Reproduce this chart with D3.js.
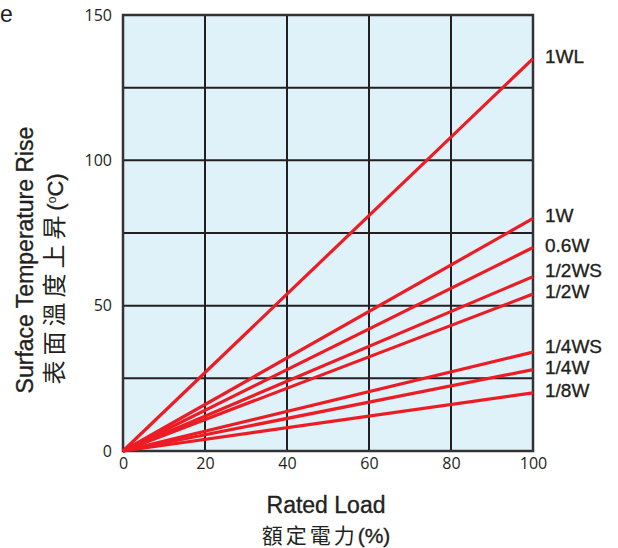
<!DOCTYPE html>
<html>
<head>
<meta charset="utf-8">
<script src="https://cdn.jsdelivr.net/npm/d3@7"></script>
<style>
  body { margin: 0; background: #fff; }
  text { font-family: "Liberation Sans", Arial, sans-serif; fill: #231f20; }
  .heavy { stroke: #231f20; stroke-width: 0.35px; }
</style>
</head>
<body>
<svg id="chart" width="618" height="548"></svg>
<script>
// series names and temperature rise at 0% / 100% rated load
var seriesNames = ["1WL", "1W", "0.6W", "1/2WS", "1/2W", "1/4WS", "1/4W", "1/8W"];
var loadPoints = [0, 100];
var riseAt100 = [135, 80, 70, 60, 54, 34, 28, 20];
var xTicks = [0, 20, 40, 60, 80, 100];
var yTicks = [0, 50, 100, 150];
var yGrid = [0, 25, 50, 75, 100, 125, 150];

(function () {
    var svg = d3.select("#chart");
    var plotL = 123, plotR = 533, plotT = 15, plotB = 451;

    var x = d3.scaleLinear().domain([0, 100]).range([plotL, plotR]);
    var y = d3.scaleLinear().domain([0, 150]).range([plotB, plotT]);

    // plot background
    svg.append("rect")
        .attr("x", plotL).attr("y", plotT)
        .attr("width", plotR - plotL).attr("height", plotB - plotT)
        .attr("fill", "#dff1f9");

    // grid
    svg.append("g").selectAll("line").data(yGrid).enter().append("line")
        .attr("x1", plotL).attr("x2", plotR)
        .attr("y1", function (d) { return y(d); }).attr("y2", function (d) { return y(d); })
        .attr("stroke", "#231f20").attr("stroke-width", 2);
    svg.append("g").selectAll("line").data(xTicks).enter().append("line")
        .attr("y1", plotT).attr("y2", plotB)
        .attr("x1", function (d) { return x(d); }).attr("x2", function (d) { return x(d); })
        .attr("stroke", "#231f20").attr("stroke-width", 2);

    svg.append("rect")
        .attr("x", plotL).attr("y", plotT)
        .attr("width", plotR - plotL).attr("height", plotB - plotT)
        .attr("fill", "none").attr("stroke", "#333").attr("stroke-width", 2.5);

    // tick labels via d3 axes
    var xAxis = svg.append("g")
        .attr("transform", "translate(0," + plotB + ")")
        .call(d3.axisBottom(x).tickValues(xTicks).tickSize(0).tickPadding(7));
    var yAxis = svg.append("g")
        .attr("transform", "translate(" + plotL + ",0)")
        .call(d3.axisLeft(y).tickValues(yTicks).tickSize(0).tickPadding(11));
    [xAxis, yAxis].forEach(function (a) {
        a.select(".domain").remove();
        a.selectAll("text")
            .style("font-family", "'Open Sans', 'Liberation Sans', sans-serif")
            .style("font-size", "16px")
            .attr("fill", "#231f20");
    });

    // lines
    var line = d3.line()
        .x(function (d) { return x(d[0]); })
        .y(function (d) { return y(d[1]); });

    seriesNames.forEach(function (name, i) {
        var pts = loadPoints.map(function (p) { return [p, riseAt100[i] * p / 100]; });
        svg.append("path")
            .attr("d", line(pts))
            .attr("fill", "none")
            .attr("stroke", "#ed1c24")
            .attr("stroke-width", 3.2);
    });

    // end labels: start just above each line end, then push apart upward
    var labelY = riseAt100.map(function (v) { return y(v) - 3; });
    for (var i = labelY.length - 2; i >= 0; i--) {
        if (labelY[i + 1] - labelY[i] < 21) labelY[i] = labelY[i + 1] - 21;
    }
    seriesNames.forEach(function (name, i) {
        svg.append("text")
            .attr("class", "heavy")
            .attr("x", 545)
            .attr("y", labelY[i] + 7)
            .style("font-size", "19px")
            .text(name);
    });

    // axis titles
    svg.append("text")
        .attr("class", "heavy")
        .attr("transform", "translate(33,260) rotate(-90)")
        .attr("text-anchor", "middle")
        .style("font-size", "23px")
        .text("Surface Temperature Rise");
    svg.append("text")
        .attr("transform", "translate(63,279) rotate(-90)")
        .attr("text-anchor", "middle")
        .style("font-size", "22px")
        .html("<tspan style=\"font-family:'Noto Sans CJK TC'; font-size:24px; letter-spacing:5px\">表面溫度上昇</tspan><tspan class=\"heavy\">(</tspan><tspan baseline-shift=\"super\" font-size=\"12px\">o</tspan><tspan class=\"heavy\">C)</tspan>");

    svg.append("text")
        .attr("class", "heavy")
        .attr("x", 326).attr("y", 513)
        .attr("text-anchor", "middle")
        .style("font-size", "23px")
        .text("Rated Load");
    svg.append("text")
        .attr("x", 326).attr("y", 543)
        .attr("text-anchor", "middle")
        .style("font-size", "21px")
        .html("<tspan style=\"font-family:'Noto Sans CJK TC'; letter-spacing:3px\">額定電力</tspan><tspan class=\"heavy\">(%)</tspan>");

    svg.append("text")
        .attr("x", 0).attr("y", 22)
        .style("font-size", "23px")
        .text("e");
})();
</script>
</body>
</html>
